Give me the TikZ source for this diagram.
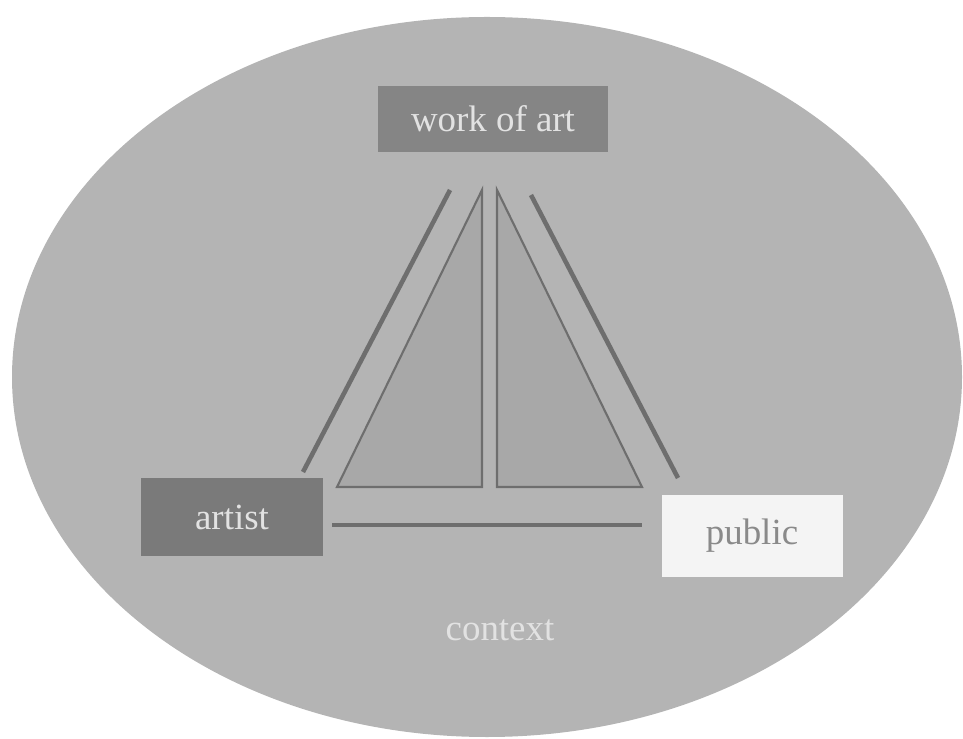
\documentclass[tikz,border=0pt]{standalone}
\usepackage{fontspec}
\setmainfont{Liberation Serif}
\definecolor{ctxgray}{HTML}{B4B4B4}
\definecolor{boxdark}{HTML}{858585}
\definecolor{boxdarker}{HTML}{7A7A7A}
\definecolor{boxlight}{HTML}{F4F4F4}
\definecolor{bargray}{HTML}{6E6E6E}
\definecolor{trifill}{HTML}{A8A8A8}
\definecolor{paletext}{HTML}{E2E2E2}
\definecolor{pubtext}{HTML}{8A8A8A}
\begin{document}
\begin{tikzpicture}[x=0.02cm, y=-0.02cm,
    label/.style={inner sep=0pt, font=\fontsize{21}{25}\selectfont},
    box/.style={label, minimum width=#1*0.02cm, text=paletext},
    bar/.style={draw=bargray, line width=2.6pt},
    tri/.style={draw=bargray, line width=1.2pt, fill=trifill}]
    \useasboundingbox (0,0) rectangle (963,739);
    \fill[ctxgray] (487,377) ellipse [x radius=475, y radius=360];
    \node[box=230, fill=boxdark, minimum height=1.32cm] (work) at (493,119) {work of art};
    \node[box=182, fill=boxdarker, minimum height=1.58cm] (artist) at (232,517) {artist};
    \node[box=181, fill=boxlight, minimum height=1.64cm, text=pubtext] (public) at (752,536) {public};
    \node[label, text=paletext] (context) at (500,630) {context};
    \coordinate (wl) at (450,190);
    \coordinate (al) at (303,472);
    \coordinate (wr) at (531,195);
    \coordinate (pr) at (678,478);
    \coordinate (ab) at (332,525);
    \coordinate (pb) at (642,525);
    \draw[tri] (482,190) -- (482,487) -- (337,487) -- cycle;
    \draw[tri] (497,190) -- (497,487) -- (642,487) -- cycle;
    \draw[bar] (wl) -- (al);
    \draw[bar] (wr) -- (pr);
    \draw[bar] (ab) -- (pb);
\end{tikzpicture}
\end{document}
